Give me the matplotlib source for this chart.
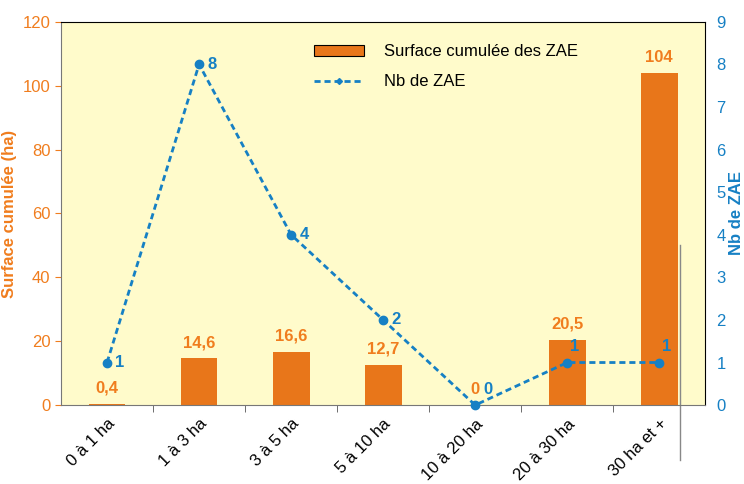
import numpy as np
import matplotlib.pyplot as plt
from matplotlib.lines import Line2D
from matplotlib.patches import Patch

plt.rcParams['font.family'] = ['Liberation Sans', 'DejaVu Sans']

categories = ['0 à 1 ha', '1 à 3 ha', '3 à 5 ha', '5 à 10 ha', '10 à 20 ha', '20 à 30 ha', '30 ha et +']
surface = [0.4, 14.6, 16.6, 12.7, 0, 20.5, 104]
surface_labels = ['0,4', '14,6', '16,6', '12,7', '0', '20,5', '104']
nb_zae = [1, 8, 4, 2, 0, 1, 1]

orange = '#E8761A'
orange_txt = '#F07D1E'
blue = '#1680C4'
bg = '#FFFBCB'

# where each count label sits relative to its marker (points)
count_offsets = [(6, 0, 'center'), (6, 0, 'center'), (6, 0, 'center'), (6, 0, 'center'),
                 (6, 6, 'bottom'), (2, 6, 'bottom'), (2, 6, 'bottom')]

fig = plt.figure(figsize=(7.44, 4.84), dpi=100)
ax = fig.add_axes([0.082, 0.163, 0.866, 0.792])
ax.set_facecolor(bg)

x = np.arange(len(categories))
ax.bar(x, surface, width=0.4, color=orange, zorder=2)
ax.set_xlim(-0.5, len(categories) - 0.5)
ax.set_ylim(0, 120)
ax.set_yticks(np.arange(0, 121, 20))
ax.tick_params(axis='y', colors=orange_txt, labelsize=12, length=4)
ax.set_ylabel('Surface cumulée (ha)', color=orange_txt, fontsize=12, fontweight='bold', labelpad=4)

ax.set_xticks(x)
ax.set_xticklabels(categories, rotation=45, ha='right', rotation_mode='anchor', fontsize=12)
ax.tick_params(axis='x', length=0, pad=8)
ax.set_xticks(x[:-1] + 0.5, minor=True)
ax.tick_params(axis='x', which='minor', length=5, color='#555555')

for s in ['left', 'bottom']:
    ax.spines[s].set_color('#777777')
for s in ['top', 'right']:
    ax.spines[s].set_color('black')

# stray grey stroke near the last bar, as in the source image
ax.plot([6.23, 6.23], [0.418, -0.144], color='#888888', linewidth=1,
        transform=ax.get_xaxis_transform(), clip_on=False, zorder=1)

for xi, v, lab in zip(x, surface, surface_labels):
    ax.annotate(lab, (xi, v), xytext=(0, 6), textcoords='offset points',
                ha='center', va='bottom', color=orange_txt, fontsize=12, fontweight='bold')

ax2 = ax.twinx()
ax2.plot(x, nb_zae, color=blue, linestyle=(0, (2.2, 1.4)), linewidth=2.0, marker='o',
         markersize=6, zorder=3, clip_on=False)
ax2.set_ylim(0, 9)
ax2.set_yticks(range(10))
ax2.tick_params(axis='y', colors=blue, labelsize=12, length=0, pad=8)
ax2.set_ylabel('Nb de ZAE', color=blue, fontsize=12, fontweight='bold', labelpad=2)
for s in ax2.spines.values():
    s.set_visible(False)

for xi, v, (dx, dy, va) in zip(x, nb_zae, count_offsets):
    ax2.annotate(str(v), (xi, v), xytext=(dx, dy), textcoords='offset points',
                 ha='left', va=va, color=blue, fontsize=12, fontweight='bold')

handles = [Patch(facecolor=orange, edgecolor='black', linewidth=0.8),
           Line2D([], [], color=blue, linestyle=(0, (2.2, 1.4)), linewidth=2.0, marker='D', markersize=3)]
ax.legend(handles, ['Surface cumulée des ZAE', 'Nb de ZAE'], loc='upper left',
          bbox_to_anchor=(0.37, 0.98), frameon=False, fontsize=12, handlelength=3,
          handletextpad=1.2, labelspacing=0.9)

fig.savefig('out.png', dpi=100)
